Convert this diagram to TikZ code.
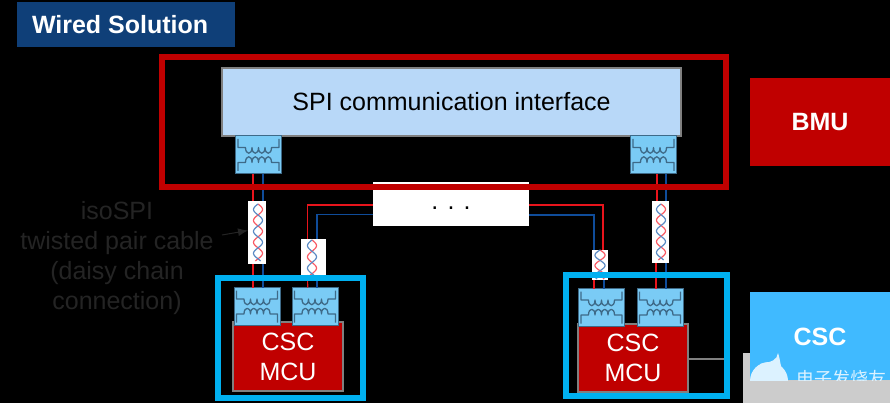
\documentclass[tikz,border=0pt]{standalone}
\usepackage{fontspec}
\usetikzlibrary{arrows.meta}
\setmainfont{Liberation Sans}
\newfontfamily\cjkwm{Noto Sans CJK SC}
\definecolor{framered}{HTML}{C00000}
\definecolor{framecyan}{HTML}{00B0F0}
\definecolor{headblue}{HTML}{0F3F78}
\definecolor{ifaceblue}{HTML}{B8D8F8}
\definecolor{xfmrblue}{HTML}{7ACBF5}
\definecolor{coilblue}{HTML}{3E6A88}
\definecolor{wirered}{HTML}{E8141C}
\definecolor{wireblue}{HTML}{0F4C9A}
\definecolor{twistred}{HTML}{FA5A64}
\definecolor{twistblue}{HTML}{5A8AC4}
\definecolor{tagcyan}{HTML}{40BAFF}
\definecolor{dimtext}{HTML}{242424}
\definecolor{markblue}{HTML}{DCF2FF}

\begin{document}
\begin{tikzpicture}[x=1pt, y=-1pt, outer sep=0pt, inner sep=0pt]
	\tikzstyle {big text} = [font=\fontsize{25}{30}\selectfont, align=center]
	\tikzstyle {bold text} = [font=\fontsize{25}{30}\selectfont\bfseries, text=white]
	\tikzstyle {frame} = [draw, line width=6pt, fill=none]
	\tikzstyle {xfmr} = [draw=coilblue, line width=1pt, fill=xfmrblue, minimum width=46pt, minimum height=38pt]
	\tikzstyle {coil} = [draw=coilblue, line width=1.3pt, line join=round]
	\tikzstyle {cable} = [fill=white, minimum width=17pt]
	\tikzstyle {mcu} = [draw=gray, line width=2pt, fill=framered, text=white, big text, minimum width=110pt, minimum height=69pt]
	\tikzstyle {red wire} = [draw=wirered, line width=1.2pt]
	\tikzstyle {blue wire} = [draw=wireblue, line width=1.8pt]
	\tikzstyle {twist} = [line width=1.2pt, smooth]

	\useasboundingbox (0,0) rectangle (890,403);
	\fill[black] (0,0) rectangle (890,403);

	% header and side tags
	\node[fill=headblue, minimum width=218pt, minimum height=45pt] (header) at (126,24.5) {};
	\node[bold text, anchor=west] (headerText) at (32,24.5) {Wired Solution};
	\fill[gray!40] (743,353) rectangle (890,403);
	\node[fill=framered, minimum width=140pt, minimum height=88pt, bold text] (bmuTag) at (820,122) {BMU};
	\node[fill=tagcyan, minimum width=140pt, minimum height=88pt] (cscTag) at (820,336) {};
	\node[bold text] (cscTagText) at (820,337) {CSC};

	% watermark, cut off by the tag
	\begin{scope}
		\clip (cscTag.north west) rectangle (cscTag.south east);
		\fill[markblue] (769,381) circle (19);
		\fill[markblue] (760,364) .. controls (772,362) and (777,360) .. (778,353) .. controls (781,362) and (780,367) .. (783,370) -- cycle;
		\node[text=markblue, font=\cjkwm\fontsize{18}{18}\selectfont] (markText) at (841,379) {电子发烧友};
	\end{scope}

	% interface and boxes
	\node[draw=gray, line width=2pt, fill=ifaceblue, minimum width=459pt, minimum height=68pt, big text] (iface) at (451.5,102) {SPI communication interface};
	\node[fill=white, minimum width=156pt, minimum height=44pt] (dots) at (451,204) {};
	\node[big text] (dotsText) at (451,208) {. . .};
	\node[mcu] (mcuL) at (288,356.5) {CSC\\MCU};
	\node[mcu, minimum height=68pt] (mcuR) at (633,358) {CSC\\MCU};

	% transformers
	\foreach \name/\xc/\yc in {topL/258.5/155, topR/653.5/155, cscLa/257/306.5, cscLb/315/306.5, cscRa/601.5/307.5, cscRb/660/307.5} {
		\node[xfmr] (\name) at (\xc,\yc) {};
		\begin{scope}[shift={(\xc,\yc)}]
			\draw[coil] (-20.5,-16) -- (-20.5,-7.5) -- (-13,-7.5)
				to[out=-90,in=-90,looseness=3] ++(6.5,0) to[out=-90,in=-90,looseness=3] ++(6.5,0)
				to[out=-90,in=-90,looseness=3] ++(6.5,0) to[out=-90,in=-90,looseness=3] ++(6.5,0)
				-- (20.5,-7.5) -- (20.5,-16);
			\draw[coil] (-20.5,16) -- (-20.5,7.5) -- (-13,7.5)
				to[out=90,in=90,looseness=3] ++(6.5,0) to[out=90,in=90,looseness=3] ++(6.5,0)
				to[out=90,in=90,looseness=3] ++(6.5,0) to[out=90,in=90,looseness=3] ++(6.5,0)
				-- (20.5,7.5) -- (20.5,16);
		\end{scope}
	}

	% twisted pair cables
	\node[cable, minimum width=18pt, minimum height=63pt] (cableA) at (257,232.5) {};
	\node[cable, minimum width=25pt, minimum height=36pt] (cableB) at (313.5,257) {};
	\node[cable, minimum width=16pt, minimum height=30pt] (cableC) at (600,265) {};
	\node[cable, minimum height=62pt] (cableD) at (660.5,232) {};
	\foreach \xc/\amp/\ya/\yb/\turns in {258/4.5/204/261/2.6, 312/4.5/240/276/1.6, 600/5/250/279/1.4, 661/4.5/204/260/2.6} {
		\draw[twist, twistred] plot[domain=0:1, samples=50] ({\xc+\amp*sin(360*\turns*\x)},{\ya+(\yb-\ya)*\x});
		\draw[twist, twistblue] plot[domain=0:1, samples=50] ({\xc-\amp*sin(360*\turns*\x)},{\ya+(\yb-\ya)*\x});
	}

	% wires
	\draw[red wire] ([xshift=-5.5pt]topL.south) -- ([xshift=-4pt]cableA.north);
	\draw[blue wire] ([xshift=4.5pt]topL.south) -- ([xshift=6pt]cableA.north);
	\draw[red wire] ([xshift=-4pt]cableA.south) -- ([xshift=-4pt]cscLa.north);
	\draw[blue wire] ([xshift=6pt]cableA.south) -- ([xshift=6pt]cscLa.north);
	\draw[red wire] ([yshift=-1pt]dots.west) -| ([xshift=-6pt]cableB.north);
	\draw[blue wire, line width=1.2pt] ([yshift=-10.7pt]dots.west) -| ([xshift=3.5pt]cableB.north);
	\draw[red wire] ([xshift=-6pt]cableB.south) -- ([xshift=-7.3pt]cscLb.north);
	\draw[blue wire, line width=1.2pt] ([xshift=3.5pt]cableB.south) -- ([xshift=2pt]cscLb.north);
	\draw[red wire] ([yshift=-1pt]dots.east) -| ([xshift=3pt]cableC.north);
	\draw[blue wire] ([yshift=-10.7pt]dots.east) -| ([xshift=-6pt]cableC.north);
	\draw[red wire] ([xshift=-6pt]cableC.south) -- ([xshift=-7.5pt]cscRa.north);
	\draw[blue wire, line width=1.2pt] ([xshift=4pt]cableC.south) -- ([xshift=2.5pt]cscRa.north);
	\draw[red wire] ([xshift=3.5pt]topR.south) -- ([xshift=-3.5pt]cableD.north);
	\draw[blue wire] ([xshift=12.5pt]topR.south) -- ([xshift=5.5pt]cableD.north);
	\draw[red wire] ([xshift=-4.5pt]cableD.south) -- ([xshift=-4pt]cscRb.north);
	\draw[blue wire] ([xshift=5.5pt]cableD.south) -- ([xshift=6pt]cscRb.north);

	% frames
	\node[frame, draw=framered, minimum width=564pt, minimum height=130pt] (bmuFrame) at (444,122) {};
	\node[frame, draw=framecyan, minimum width=145pt, minimum height=120pt] (cscFrameL) at (290.5,338) {};
	\node[frame, draw=framecyan, minimum width=161pt, minimum height=121pt] (cscFrameR) at (646.5,335.5) {};
	\draw[gray, line width=1.5pt] ([yshift=-1pt]mcuR.east) -- ([xshift=-3pt,yshift=-1pt]mcuR.east -| cscFrameR.east);

	% cable label
	\node[big text, text=dimtext] (cableText) at (117,258.5) {isoSPI\\twisted pair cable\\(daisy chain\\connection)};
	\coordinate (cableTip) at ([yshift=2pt]cableA.west);
	\draw[-{Latex[length=10pt,width=8pt]}, dimtext, line width=1pt] (222,235) -- (cableTip);
\end{tikzpicture}
\end{document}
